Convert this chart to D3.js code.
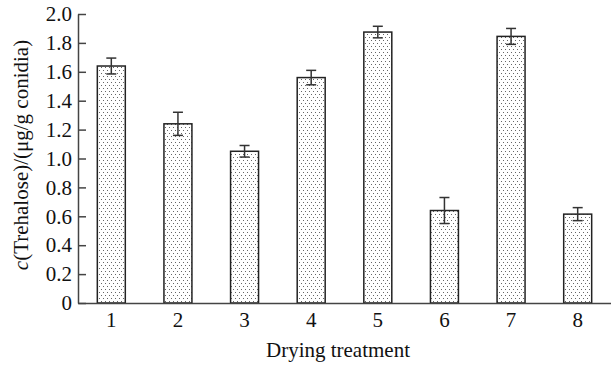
<!DOCTYPE html>
<html><head><meta charset="utf-8">
<script src="https://cdn.jsdelivr.net/npm/d3@7"></script>
<style>body{margin:0;background:#fff}svg{display:block}svg text{font-family:'Liberation Serif','Times New Roman',serif !important}</style>
</head><body>
<svg id="c" width="611" height="365"></svg>
<script>
const categories = ["1","2","3","4","5","6","7","8"];
const values = [1.64, 1.24, 1.05, 1.56, 1.875, 0.64, 1.845, 0.615];
const errors = [0.055, 0.08, 0.04, 0.05, 0.04, 0.09, 0.055, 0.045];
const yTicks = [0,0.2,0.4,0.6,0.8,1.0,1.2,1.4,1.6,1.8,2.0];

const svg = d3.select("#c");
const font = "'Liberation Serif','Times New Roman',serif";
const fs = 21;
const x = d3.scaleBand().domain(categories).range([78,611]).paddingInner(0.58).paddingOuter(0.29);
const y = d3.scaleLinear().domain([0,2]).range([303,14]);

const defs = svg.append("defs");
const pat = defs.append("pattern").attr("id","dots").attr("patternUnits","userSpaceOnUse")
  .attr("width",4).attr("height",6);
pat.append("rect").attr("width",4).attr("height",6).attr("fill","#fff");
pat.append("rect").attr("x",1).attr("y",1).attr("width",1).attr("height",1).attr("fill","#666");
pat.append("rect").attr("x",3).attr("y",4).attr("width",1).attr("height",1).attr("fill","#666");

// bars
svg.selectAll("rect.bar").data(values).enter().append("rect").attr("class","bar")
  .attr("x",(d,i)=>x(categories[i]))
  .attr("y",d=>y(d))
  .attr("width",x.bandwidth())
  .attr("height",d=>y(0)-y(d))
  .attr("fill","url(#dots)").attr("stroke","#222").attr("stroke-width",1.5);

// error bars
const eg = svg.append("g").attr("stroke","#333").attr("stroke-width",1.5);
values.forEach((v,i)=>{
  const cx = x(categories[i]) + x.bandwidth()/2;
  eg.append("line").attr("x1",cx).attr("x2",cx).attr("y1",y(v+errors[i])).attr("y2",y(v-errors[i]));
  eg.append("line").attr("x1",cx-5).attr("x2",cx+5).attr("y1",y(v+errors[i])).attr("y2",y(v+errors[i]));
  eg.append("line").attr("x1",cx-5).attr("x2",cx+5).attr("y1",y(v-errors[i])).attr("y2",y(v-errors[i]));
});

// y axis
const ya = svg.append("g").attr("transform","translate(78,0)")
  .call(d3.axisRight(y).tickValues(yTicks).tickSize(8).tickSizeOuter(0)
    .tickFormat(d=>d===0?"0":d3.format(".1f")(d)));
ya.attr("font-family",font).attr("font-size",fs);
ya.select(".domain").attr("stroke","#444").attr("stroke-width",1.5);
ya.selectAll(".tick line").attr("stroke","#444").attr("stroke-width",1.5);
ya.selectAll(".tick text").attr("x",-6).attr("text-anchor","end")
  .attr("font-family",font).attr("font-size",fs).attr("fill","#111");

// x axis
const xa = svg.append("g").attr("transform","translate(0,303)")
  .call(d3.axisBottom(x).tickSize(0).tickSizeOuter(0).tickPadding(9));
xa.attr("font-family",font).attr("font-size",fs);
xa.select(".domain").attr("stroke","#444").attr("stroke-width",1.5);
xa.selectAll(".tick text").attr("font-family",font).attr("font-size",fs).attr("fill","#111");

// titles
svg.append("text").attr("x",338).attr("y",357).attr("text-anchor","middle")
  .attr("font-family",font).attr("font-size",fs).attr("fill","#111").text("Drying treatment");
const yt = svg.append("text").attr("transform","translate(28,155) rotate(-90)")
  .attr("text-anchor","middle").attr("font-family",font).attr("font-size",fs).attr("fill","#111");
yt.append("tspan").attr("font-style","italic").text("c");
yt.append("tspan").text("(Trehalose)/(μg/g conidia)");
</script>
</body></html>
